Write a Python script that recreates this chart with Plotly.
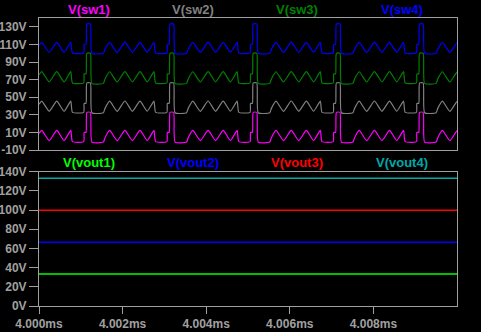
import plotly.graph_objects as go

# shared time base (microseconds after 4.000 ms)
t_us = [
    0.0, 0.065, 0.245, 0.425, 0.60,
    0.76, 0.80, 1.07, 1.08, 1.125, 1.145, 1.23, 1.265, 1.54, 1.58, 1.69, 1.87, 2.055, 2.235, 2.415, 2.59,
    2.75, 2.79, 3.06, 3.07, 3.115, 3.135, 3.22, 3.255, 3.53, 3.57, 3.68, 3.86, 4.045, 4.225, 4.405, 4.58,
    4.74, 4.78, 5.05, 5.06, 5.105, 5.125, 5.21, 5.245, 5.52, 5.56, 5.67, 5.85, 6.035, 6.215, 6.395, 6.57,
    6.73, 6.77, 7.04, 7.05, 7.095, 7.115, 7.20, 7.235, 7.51, 7.55, 7.66, 7.84, 8.025, 8.205, 8.385, 8.56,
    8.72, 8.76, 9.03, 9.04, 9.085, 9.105, 9.19, 9.225, 9.50, 9.54, 9.65, 9.83, 10.015, 10.195,
]

sw1 = [
    9.0, 12.3, 0.7, 12.3, 0.7,
    12.3, -0.5, -0.5, 10.0, 10.0, 32.8, 32.8, -1.0, -1.0, 4.0, 12.2, 0.6, 12.4, 0.7, 12.3, 0.8,
    12.3, -0.5, -0.5, 10.0, 10.0, 32.8, 32.8, -1.0, -1.0, 4.0, 12.2, 0.6, 12.4, 0.7, 12.3, 0.8,
    12.3, -0.5, -0.5, 10.0, 10.0, 32.8, 32.8, -1.0, -1.0, 4.0, 12.2, 0.6, 12.4, 0.7, 12.3, 0.8,
    12.3, -0.5, -0.5, 10.0, 10.0, 32.8, 32.8, -1.0, -1.0, 4.0, 12.2, 0.6, 12.4, 0.7, 12.3, 0.8,
    12.3, -0.5, -0.5, 10.0, 10.0, 32.8, 32.8, -1.0, -1.0, 4.0, 12.2, 0.6, 12.4, 0.7,
]
sw2 = [
    42.0, 45.6, 34.0, 45.6, 34.0,
    45.6, 32.8, 32.8, 43.0, 43.0, 66.3, 66.3, 32.3, 32.3, 37.3, 45.5, 33.9, 45.7, 34.0, 45.6, 34.1,
    45.6, 32.8, 32.8, 43.0, 43.0, 66.3, 66.3, 32.3, 32.3, 37.3, 45.5, 33.9, 45.7, 34.0, 45.6, 34.1,
    45.6, 32.8, 32.8, 43.0, 43.0, 66.3, 66.3, 32.3, 32.3, 37.3, 45.5, 33.9, 45.7, 34.0, 45.6, 34.1,
    45.6, 32.8, 32.8, 43.0, 43.0, 66.3, 66.3, 32.3, 32.3, 37.3, 45.5, 33.9, 45.7, 34.0, 45.6, 34.1,
    45.6, 32.8, 32.8, 43.0, 43.0, 66.3, 66.3, 32.3, 32.3, 37.3, 45.5, 33.9, 45.7, 34.0,
]
sw3 = [
    75.5, 79.0, 67.4, 79.0, 67.4,
    79.0, 66.2, 66.2, 76.5, 76.5, 100.0, 100.0, 65.7, 65.7, 70.7, 78.9, 67.3, 79.1, 67.4, 79.0, 67.5,
    79.0, 66.2, 66.2, 76.5, 76.5, 100.0, 100.0, 65.7, 65.7, 70.7, 78.9, 67.3, 79.1, 67.4, 79.0, 67.5,
    79.0, 66.2, 66.2, 76.5, 76.5, 100.0, 100.0, 65.7, 65.7, 70.7, 78.9, 67.3, 79.1, 67.4, 79.0, 67.5,
    79.0, 66.2, 66.2, 76.5, 76.5, 100.0, 100.0, 65.7, 65.7, 70.7, 78.9, 67.3, 79.1, 67.4, 79.0, 67.5,
    79.0, 66.2, 66.2, 76.5, 76.5, 100.0, 100.0, 65.7, 65.7, 70.7, 78.9, 67.3, 79.1, 67.4,
]
sw4 = [
    109.0, 112.4, 101.0, 112.4, 101.0,
    112.4, 100.3, 100.3, 110.0, 110.0, 133.2, 133.2, 99.9, 99.9, 104.5, 112.3, 100.9, 112.5, 101.0, 112.4, 101.1,
    112.4, 100.3, 100.3, 110.0, 110.0, 133.2, 133.2, 99.9, 99.9, 104.5, 112.3, 100.9, 112.5, 101.0, 112.4, 101.1,
    112.4, 100.3, 100.3, 110.0, 110.0, 133.2, 133.2, 99.9, 99.9, 104.5, 112.3, 100.9, 112.5, 101.0, 112.4, 101.1,
    112.4, 100.3, 100.3, 110.0, 110.0, 133.2, 133.2, 99.9, 99.9, 104.5, 112.3, 100.9, 112.5, 101.0, 112.4, 101.1,
    112.4, 100.3, 100.3, 110.0, 110.0, 133.2, 133.2, 99.9, 99.9, 104.5, 112.3, 100.9, 112.5, 101.0,
]

vout_t_us = [0.0, 10.0]
vout1 = [33.3, 33.3]
vout2 = [66.4, 66.4]
vout3 = [99.8, 99.8]
vout4 = [133.1, 133.1]

top_names = ["V(sw1)", "V(sw2)", "V(sw3)", "V(sw4)"]
top_colors = ["#ff00ff", "#808080", "#008000", "#0000ff"]
bot_names = ["V(vout1)", "V(vout2)", "V(vout3)", "V(vout4)"]
bot_colors = ["#00ff00", "#0000ff", "#ff0000", "#00a8a8"]

x_tickvals = [4.000, 4.002, 4.004, 4.006, 4.008]
x_ticktext = ["4.000ms", "4.002ms", "4.004ms", "4.006ms", "4.008ms"]
top_yticks = [-10, 10, 30, 50, 70, 90, 110, 130]
bot_yticks = [0, 20, 40, 60, 80, 100, 120, 140]

t_ms = [4.0 + v / 1000.0 for v in t_us]
vt_ms = [4.0 + v / 1000.0 for v in vout_t_us]

fig = go.Figure()
for ys, c in zip([sw1, sw2, sw3, sw4], top_colors):
    fig.add_trace(go.Scatter(x=t_ms, y=ys, mode="lines",
                             line=dict(color=c, width=1.2, shape="spline", smoothing=0.5),
                             xaxis="x", yaxis="y", showlegend=False, hoverinfo="skip"))
for ys, c in zip([vout1, vout2, vout3, vout4], bot_colors):
    fig.add_trace(go.Scatter(x=vt_ms, y=ys, mode="lines", line=dict(color=c, width=1.5),
                             xaxis="x2", yaxis="y2", showlegend=False, hoverinfo="skip"))

tick_font = dict(family="Liberation Sans, Arial, sans-serif", size=12, color="#a0a0a0", weight="bold")
axis_common = dict(showgrid=False, zeroline=False, showline=True, mirror=True,
                   linecolor="#a0a0a0", linewidth=1, automargin=False)

H = 288.0
top_dom = [(306 - 150) / H, 1.0]
bot_dom = [0.0, (306 - 171.7) / H]

fig.update_layout(
    width=481, height=332,
    margin=dict(l=39, r=24, t=18, b=26, autoexpand=False),
    paper_bgcolor="black", plot_bgcolor="black",
    xaxis=dict(domain=[0, 1], range=[4.0, 4.010], anchor="y", showticklabels=False,
               ticks="", **axis_common),
    yaxis=dict(domain=top_dom, range=[-10, 140], anchor="x", tickvals=top_yticks,
               ticktext=[f"{v}V" for v in top_yticks], ticks="outside", ticklen=9,
               tickcolor="#a0a0a0", tickfont=tick_font, **axis_common),
    xaxis2=dict(domain=[0, 1], range=[4.0, 4.010], anchor="y2", tickvals=x_tickvals,
                ticktext=x_ticktext, ticks="outside", ticklen=7, tickcolor="#a0a0a0",
                tickfont=tick_font, **axis_common),
    yaxis2=dict(domain=bot_dom, range=[0, 140], anchor="x2", tickvals=bot_yticks,
                ticktext=[f"{v}V" for v in bot_yticks], ticks="outside", ticklen=9,
                tickcolor="#a0a0a0", tickfont=tick_font, **axis_common),
)

label_x_px = [89, 193, 297, 402]
for name, c, xp in zip(top_names, top_colors, label_x_px):
    fig.add_annotation(text=name, x=(xp - 39) / 418.0, y=(306 - 9.5) / H, xref="paper", yref="paper",
                       showarrow=False, xanchor="center", yanchor="middle",
                       font=dict(family="Liberation Sans, Arial, sans-serif", size=13, color=c, weight="bold"))
for name, c, xp in zip(bot_names, bot_colors, label_x_px):
    fig.add_annotation(text=name, x=(xp - 39) / 418.0, y=(306 - 162) / H, xref="paper", yref="paper",
                       showarrow=False, xanchor="center", yanchor="middle",
                       font=dict(family="Liberation Sans, Arial, sans-serif", size=13, color=c, weight="bold"))

fig.write_html("out.html")
